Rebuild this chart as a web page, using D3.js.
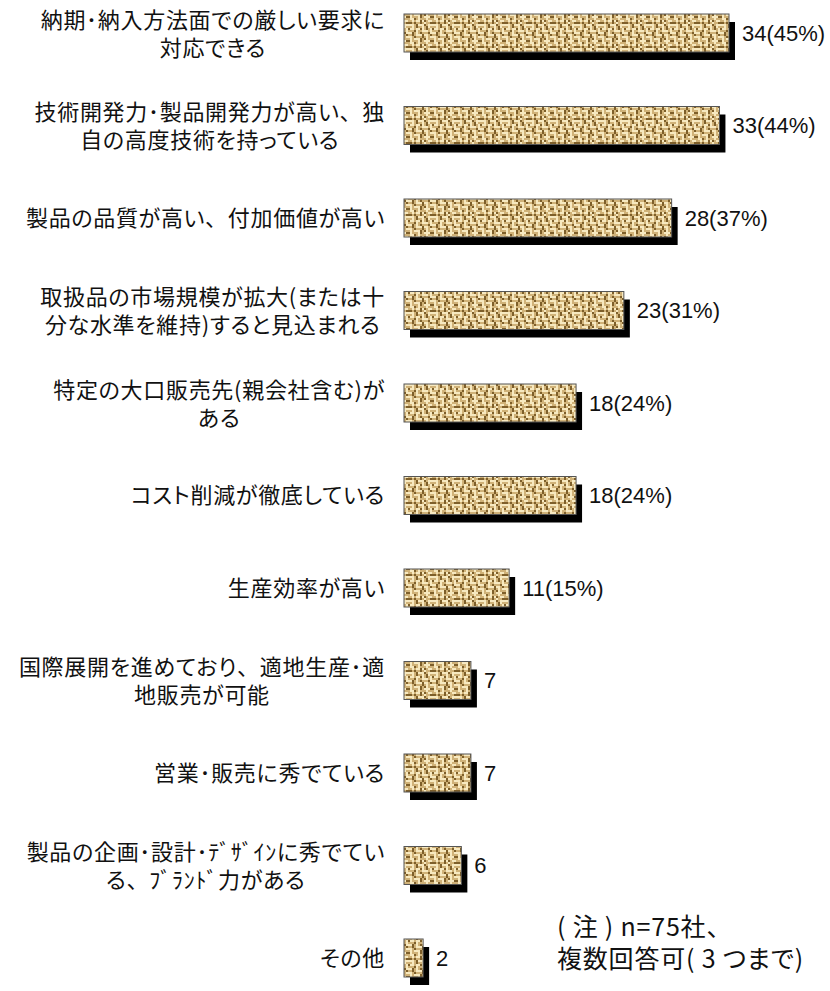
<!DOCTYPE html>
<html>
<head>
<meta charset="utf-8">
<script src="https://cdn.jsdelivr.net/npm/d3@7"></script>
<style>
  html, body { margin: 0; padding: 0; background: #fff; }
  svg { display: block; }
  .jp { font-family: 'Noto Sans CJK JP', 'Noto Sans', sans-serif; font-size: 22px; font-feature-settings: "palt"; letter-spacing: 0.7px; fill: #111; }
  .jp .full { font-feature-settings: normal; }
  .note { font-size: 25px; letter-spacing: 0.8px; }
  .val { font-family: 'Liberation Sans', Arial, sans-serif; font-size: 22px; fill: #111; }
</style>
</head>
<body>
<div id="chart"></div>
<script>
// Survey: strengths of the company (multiple answers, up to 3; n=75)
const categories = [
  ["納期･納入方法面での厳しい要求に", "対応できる"],
  ["技術開発力･製品開発力が高い、独", "自の高度技術を持っている"],
  ["製品の品質が高い、付加価値が高い"],
  ["取扱品の市場規模が拡大(または十", "分な水準を維持)すると見込まれる"],
  ["特定の大口販売先(親会社含む)が", "ある"],
  ["コスト削減が徹底している"],
  ["生産効率が高い"],
  ["国際展開を進めており、適地生産･適", "地販売が可能"],
  ["営業･販売に秀でている"],
  ["製品の企画･設計･ﾃﾞｻﾞｲﾝに秀でてい", "る、ﾌﾞﾗﾝﾄﾞ力がある"],
  ["その他"]
];
const counts = [34, 33, 28, 23, 18, 18, 11, 7, 7, 6, 2];
const percents = [45, 44, 37, 31, 24, 24, 15, null, null, null, null];
const noteLines = ["( 注 ) n=75社、", "複数回答可( 3 つまで)"];

const W = 830, H = 991;
const svg = d3.select("#chart").append("svg").attr("width", W).attr("height", H);

const x = d3.scaleLinear().domain([0, 34]).range([404, 729]);
const y = d3.scalePoint().domain(d3.range(categories.length)).range([33, 958]);
const barH = 38;
const shadowDx = 6, shadowDy = 8;

// Woven burlap texture for the bars
const tile = [
  "LLL.dLLLd.LL",
  "..L.d..L.dL.",
  "dLL.LLdL.d.L",
  "...dL..LLL.L",
  "LLd.L.d...dL",
  "..d.LLLdLL.d",
  "LL.d...d.L.L",
  ".L.LLLd.dL..",
  "dL...Ld.LLLd",
  ".LLd.L...L..",
  "..L.LLdLd.LL",
  "dd.d..d.L..d"
];
const cell = 2;
const tileColors = { "L": "#f7e9c0", ".": "#d0b278", "d": "#7e5f2c" };
const defs = svg.append("defs");
defs.append("filter").attr("id", "soft")
  .append("feGaussianBlur").attr("stdDeviation", 0.5);
const pat = defs.append("pattern")
  .attr("id", "weave")
  .attr("patternUnits", "userSpaceOnUse")
  .attr("width", tile[0].length * cell)
  .attr("height", tile.length * cell);
pat.append("rect").attr("width", tile[0].length * cell).attr("height", tile.length * cell)
  .attr("fill", tileColors["."]);
const pg = pat.append("g").attr("filter", "url(#soft)");
tile.forEach((row, r) => {
  row.split("").forEach((ch, c) => {
    pg.append("rect")
      .attr("x", c * cell).attr("y", r * cell)
      .attr("width", cell).attr("height", cell)
      .attr("fill", tileColors[ch]);
  });
});

const rows = svg.append("g").selectAll("g.row")
  .data(counts.map((v, i) => ({ v, i, label: categories[i], pct: percents[i] })))
  .join("g").attr("class", "row");

// drop shadows
rows.append("rect")
  .attr("x", d => x(0) + shadowDx)
  .attr("y", d => y(d.i) - barH / 2 + shadowDy)
  .attr("width", d => x(d.v) - x(0))
  .attr("height", barH)
  .attr("fill", "#000");

// bars
rows.append("rect")
  .attr("x", x(0))
  .attr("y", d => y(d.i) - barH / 2)
  .attr("width", d => x(d.v) - x(0))
  .attr("height", barH)
  .attr("fill", "url(#weave)")
  .attr("stroke", "#555")
  .attr("stroke-width", 1);

// value labels
rows.append("text")
  .attr("class", "val")
  .attr("x", d => x(d.v) + shadowDx + 7)
  .attr("y", d => y(d.i))
  .attr("dy", "0.36em")
  .text(d => d.pct != null ? `${d.v}(${d.pct}%)` : `${d.v}`);

// writes a Japanese line, keeping the ideographic comma at full width
function jpText(sel, str) {
  str.split(/(、)/).filter(s => s.length).forEach(part => {
    sel.append("tspan").attr("class", part === "、" ? "full" : null).text(part);
  });
  return sel;
}

// category labels: first line right-aligned, second line centred under it
const labelRight = 385;
rows.each(function (d) {
  const g = d3.select(this);
  if (d.label.length === 1) {
    jpText(g.append("text").attr("class", "jp")
      .attr("x", labelRight).attr("y", y(d.i)).attr("dy", "0.36em")
      .attr("text-anchor", "end"), d.label[0]);
  } else {
    const t1 = jpText(g.append("text").attr("class", "jp")
      .attr("x", labelRight).attr("y", y(d.i) - 13).attr("dy", "0.36em")
      .attr("text-anchor", "end"), d.label[0]);
    const len = t1.node().getComputedTextLength();
    jpText(g.append("text").attr("class", "jp")
      .attr("x", labelRight - len / 2).attr("y", y(d.i) + 15).attr("dy", "0.36em")
      .attr("text-anchor", "middle"), d.label[1]);
  }
});

// note
svg.append("g").selectAll("text").data(noteLines).join("text")
  .attr("class", "jp note")
  .attr("x", 557)
  .attr("y", (d, i) => 927 + i * 32)
  .attr("dy", "0.36em")
  .each(function (d) { jpText(d3.select(this), d); });
</script>
</body>
</html>
